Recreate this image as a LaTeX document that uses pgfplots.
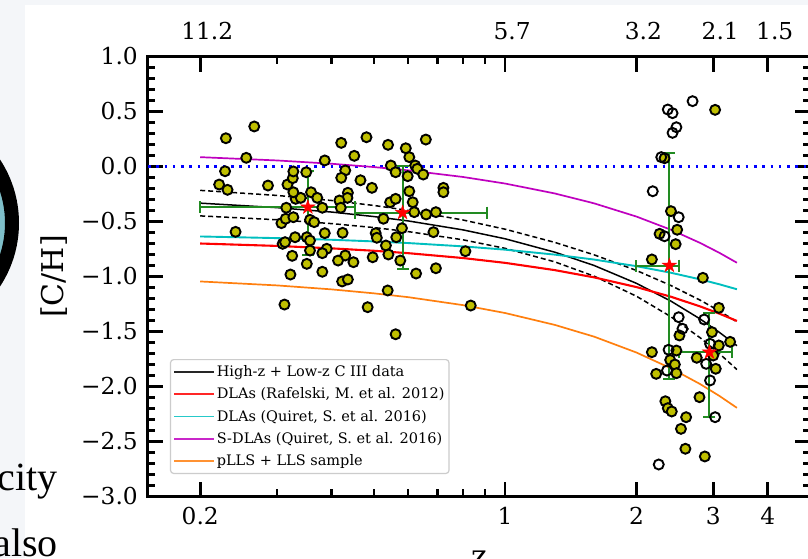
\documentclass[border=0pt]{standalone}
\usepackage{fontspec}
\setmainfont{DejaVu Serif}
\newfontfamily\timesfont{Liberation Serif}
\usepackage{pgfplots}
\usepackage{pgfplotstable}
\pgfplotsset{compat=1.18}
\definecolor{yel}{rgb}{0.75,0.75,0}
\definecolor{mcyan}{rgb}{0,0.75,0.75}
\definecolor{mmag}{rgb}{0.75,0,0.75}
\definecolor{morange}{HTML}{FF7F0E}
\definecolor{mgreen}{HTML}{228B22}
\definecolor{bgpage}{HTML}{F4F6F9}
\definecolor{teal2}{HTML}{7FBFC9}

\pgfdeclareplotmark{fstar}{%
  \pgfpathmoveto{\pgfpointpolar{90}{\pgfplotmarksize}}%
  \pgfpathlineto{\pgfpointpolar{126}{0.382\pgfplotmarksize}}%
  \pgfpathlineto{\pgfpointpolar{162}{\pgfplotmarksize}}%
  \pgfpathlineto{\pgfpointpolar{198}{0.382\pgfplotmarksize}}%
  \pgfpathlineto{\pgfpointpolar{234}{\pgfplotmarksize}}%
  \pgfpathlineto{\pgfpointpolar{270}{0.382\pgfplotmarksize}}%
  \pgfpathlineto{\pgfpointpolar{306}{\pgfplotmarksize}}%
  \pgfpathlineto{\pgfpointpolar{342}{0.382\pgfplotmarksize}}%
  \pgfpathlineto{\pgfpointpolar{18}{\pgfplotmarksize}}%
  \pgfpathlineto{\pgfpointpolar{54}{0.382\pgfplotmarksize}}%
  \pgfpathclose\pgfusepathqfillstroke}

\pgfplotstableread{
z y
0.266 0.364
0.229 0.257
0.255 0.079
0.228 -0.043
0.221 -0.164
0.231 -0.212
0.286 -0.173
0.241 -0.594
0.312 -1.255
0.322 -0.982
0.325 -0.812
0.309 -0.703
0.313 -0.688
0.330 -0.643
0.307 -0.515
0.314 -0.475
0.327 -0.461
0.315 -0.375
0.331 -0.294
0.340 -0.285
0.327 -0.234
0.317 -0.164
0.326 -0.106
0.327 -0.045
0.350 -0.052
0.359 -0.234
0.371 -0.285
0.381 -0.375
0.357 -0.485
0.365 -0.506
0.351 -0.643
0.357 -0.673
0.357 -0.764
0.351 -0.885
0.386 -0.606
0.390 -0.748
0.381 -0.788
0.381 -0.957
0.386 0.055
0.421 0.215
0.481 0.266
0.451 0.097
0.430 -0.036
0.421 -0.103
0.466 -0.125
0.495 -0.194
0.436 -0.239
0.435 -0.285
0.417 -0.309
0.420 -0.375
0.424 -0.603
0.430 -0.809
0.414 -0.855
0.449 -0.870
0.497 -0.825
0.423 -1.045
0.436 -1.027
0.484 -1.279
0.538 -1.127
0.561 -1.525
0.526 -0.475
0.505 -0.606
0.508 -0.648
0.533 -0.718
0.540 -0.800
0.575 -0.855
0.563 -0.643
0.580 -0.561
0.545 -0.325
0.561 -0.294
0.603 -0.225
0.614 -0.325
0.619 -0.415
0.659 -0.436
0.694 -0.415
0.685 -0.597
0.625 -0.973
0.694 -0.925
0.811 -0.770
0.834 -1.264
0.722 -0.194
0.722 -0.234
0.539 0.197
0.592 0.166
0.658 0.245
0.603 0.085
0.547 0.009
0.561 -0.052
0.598 -0.088
0.622 0.009
0.629 -0.021
0.649 -0.073
3.03 0.515
2.32 0.075
2.40 -0.406
2.48 -0.575
2.26 -0.612
2.46 -0.706
2.17 -0.845
2.84 -1.012
3.09 -1.285
2.98 -1.506
2.51 -1.536
2.17 -1.688
2.47 -1.673
2.39 -1.759
2.45 -1.800
2.22 -1.885
2.47 -1.879
2.75 -1.739
3.09 -1.627
3.28 -1.594
3.04 -1.839
3.00 -1.718
2.79 -2.097
2.33 -2.134
2.36 -2.197
2.41 -2.227
2.60 -2.279
2.53 -2.385
2.59 -2.566
2.87 -2.636
}\filled

\pgfplotstableread{
z y
2.69 0.594
2.36 0.518
2.42 0.485
2.47 0.357
2.42 0.306
2.28 0.085
2.18 -0.225
2.50 -0.461
2.32 -0.634
2.50 -1.370
2.55 -1.475
2.86 -1.391
2.37 -1.666
2.35 -1.855
2.89 -1.794
2.95 -1.945
3.03 -2.279
2.25 -2.709
2.95 -1.612
}\opendata

\pgfplotstableread{
z fit up lo rafel quir squir plls
0.2 -0.333 -0.217 -0.449 -0.700 -0.636 0.085 -1.045
0.3 -0.374 -0.263 -0.484 -0.722 -0.651 0.055 -1.081
0.4 -0.414 -0.309 -0.519 -0.744 -0.666 0.025 -1.117
0.5 -0.455 -0.354 -0.555 -0.766 -0.681 -0.005 -1.153
0.6 -0.495 -0.399 -0.592 -0.788 -0.696 -0.035 -1.188
0.8 -0.576 -0.486 -0.666 -0.832 -0.726 -0.095 -1.260
1.0 -0.657 -0.570 -0.744 -0.876 -0.756 -0.155 -1.332
1.3 -0.779 -0.690 -0.867 -0.942 -0.801 -0.245 -1.440
1.6 -0.900 -0.803 -0.997 -1.008 -0.846 -0.335 -1.547
2.0 -1.062 -0.945 -1.179 -1.096 -0.906 -0.455 -1.691
2.4 -1.224 -1.082 -1.366 -1.184 -0.966 -0.575 -1.835
2.8 -1.386 -1.215 -1.557 -1.272 -1.026 -0.695 -1.978
3.1 -1.508 -1.314 -1.701 -1.338 -1.071 -0.785 -2.086
3.4 -1.629 -1.412 -1.846 -1.404 -1.116 -0.875 -2.194
}\curves

\begin{document}
\begin{tikzpicture}
% page background seen at the left of the crop
\fill[bgpage] (0pt,0pt) rectangle (808pt,558pt);
\fill[white] (25pt,0pt) rectangle (808pt,553pt);
\draw[line width=14pt, fill=teal2] (-96.6pt,335pt) circle (108.6pt);
\node[anchor=base east, inner sep=0pt, font=\timesfont\fontsize{40}{48}\selectfont] at (58pt,68pt) {metallicity};
\node[anchor=base east, inner sep=0pt, font=\timesfont\fontsize{40}{48}\selectfont] at (58pt,1.3pt) {also};

\begin{axis}[
  at={(148pt,61.5pt)}, anchor=south west,
  scale only axis, width=662pt, height=440pt,
  xmode=log, xmin=0.1518, xmax=5.0, ymin=-3, ymax=1,
  axis line style={line width=3pt},
  tick align=inside,
  xtick pos=both, ytick pos=both,
  xticklabel pos=bottom, yticklabel pos=left,
  xtick={0.2,1,2,3,4}, xticklabels={0.2,1,2,3,4},
  minor xtick={0.3,0.4,0.5,0.6,0.7,0.8,0.9},
  ytick={-3,-2.5,-2,-1.5,-1,-0.5,0,0.5,1},
  yticklabels={−3.0,−2.5,−2.0,−1.5,−1.0,−0.5,0.0,0.5,1.0},
  minor y tick num=4,
  major tick length=15pt, minor tick length=7.5pt,
  every major tick/.append style={line width=2.6pt, black},
  every minor tick/.append style={line width=2.2pt, black},
  ticklabel style={font=\fontsize{23.3}{28}\selectfont, inner sep=0pt},
  yticklabel style={xshift=-10pt},
  xticklabel style={yshift=-10.5pt},
  xlabel={z},
  xlabel style={at={(axis description cs:0.5,0)}, anchor=base, yshift=-70pt, font=\fontsize{30}{36}\selectfont, inner sep=0pt},
  ylabel={[C/H]},
  ylabel style={at={(axis description cs:-0.142,0.5)}, anchor=center, font=\fontsize{30}{36}\selectfont, inner sep=0pt},
  legend style={at={(0.0332,0.0511)}, anchor=south west,
    font=\fontsize{14.5}{16}\selectfont,
    draw=black!20, line width=1.2pt, rounded corners=3pt,
    fill=white, fill opacity=0.8, text opacity=1,
    inner xsep=3pt, inner ysep=4.5pt, row sep=6.8pt,
    cells={anchor=west},
    nodes={inner sep=1.5pt}},
  legend image code/.code={\draw[#1] (0pt,0pt) -- (30pt,0pt); \path (0pt,0pt) -- (40pt,0pt);},
]
\addplot[blue, line width=2.6pt, dash pattern=on 2.6pt off 5.7pt, forget plot] coordinates {(0.1518,0) (5.0,0)};

\addplot[only marks, mark=*, mark size=5pt, mark options={fill=yel, draw=black, line width=1.9pt}, forget plot] table[x=z, y=y] {\filled};
\addplot[only marks, mark=o, mark size=5pt, mark options={draw=black, line width=1.9pt}, forget plot] table[x=z, y=y] {\opendata};

\addplot[black, line width=1.5pt, forget plot] table[x=z, y=fit] {\curves};
\addplot[black, line width=1.5pt, dash pattern=on 5pt off 3pt, forget plot] table[x=z, y=up] {\curves};
\addplot[black, line width=1.5pt, dash pattern=on 5pt off 3pt, forget plot] table[x=z, y=lo] {\curves};
\addplot[red, line width=2.1pt, forget plot] table[x=z, y=rafel] {\curves};
\addplot[mcyan, line width=1.9pt, forget plot] table[x=z, y=quir] {\curves};
\addplot[mmag, line width=1.7pt, forget plot] table[x=z, y=squir] {\curves};
\addplot[morange, line width=1.7pt, forget plot] table[x=z, y=plls] {\curves};

\addplot[only marks, mark=fstar, mark size=7.5pt, mark options={fill=red, draw=red, line width=0.4pt}, forget plot,
  error bars/.cd, x dir=both, x explicit, y dir=both, y explicit,
  error bar style={mgreen, line width=2pt},
  error mark options={rotate=90, mgreen, line width=2pt, mark size=6pt}]
  coordinates {
  (0.353,-0.37) += (0.100,0.327) -= (0.153,0.43)
  (0.582,-0.42) += (0.326,0.423) -= (0.129,0.516)
  (2.38,-0.90) += (0.13,1.025) -= (0.38,1.036)
  (2.94,-1.688) += (0.38,0.358) -= (0.43,0.591)
  };

\addlegendimage{draw=black!85, line width=1.7pt}
\addlegendentry{High-z + Low-z C III data}
\addlegendimage{draw=red!85, line width=1.7pt}
\addlegendentry{DLAs (Rafelski, M. et al. 2012)}
\addlegendimage{draw=mcyan!85, line width=1.7pt}
\addlegendentry{DLAs (Quiret, S. et al. 2016)}
\addlegendimage{draw=mmag!85, line width=1.7pt}
\addlegendentry{S-DLAs (Quiret, S. et al. 2016)}
\addlegendimage{draw=morange!85, line width=1.7pt}
\addlegendentry{pLLS + LLS sample}
\end{axis}

\begin{axis}[
  at={(148pt,61.5pt)}, anchor=south west,
  scale only axis, width=662pt, height=440pt,
  xmode=log, xmin=0.1518, xmax=5.0, ymin=-3, ymax=1,
  axis x line*=top, axis y line=none,
  axis line style={draw=none},
  xtick={0.2,1,2,3,4}, xticklabels={11.2,5.7,3.2,2.1,1.5},
  xminorticks=false, major tick length=0pt,
  tick style={draw=none},
  xticklabel style={font=\fontsize{23.3}{28}\selectfont, inner sep=0pt, yshift=16.5pt, xshift=7pt},
]
\end{axis}

\pgfresetboundingbox
\path[use as bounding box] (0pt,0pt) rectangle (808pt,558pt);
\end{tikzpicture}
\end{document}
